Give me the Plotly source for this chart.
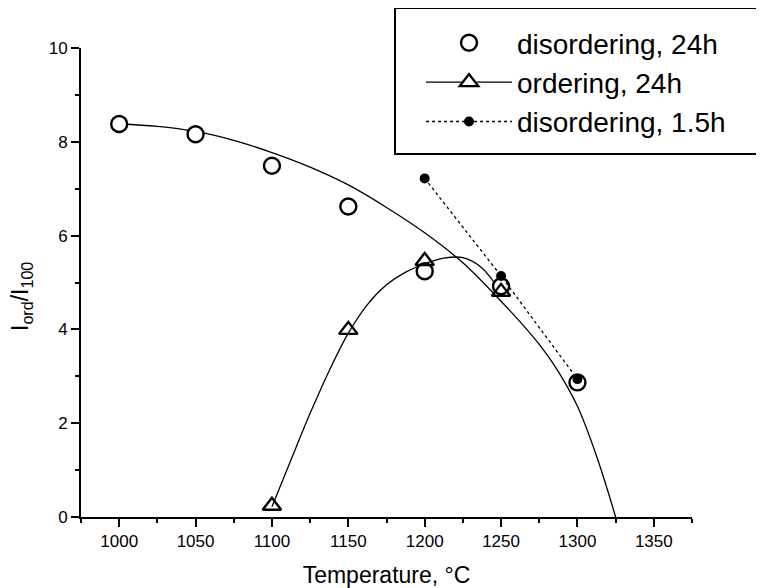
import plotly.graph_objects as go

# ---- data ----
T_dis24 = [1000, 1050, 1100, 1150, 1200, 1250, 1300]
I_dis24 = [8.38, 8.16, 7.49, 6.62, 5.24, 4.92, 2.87]

T_ord24 = [1100, 1150, 1200, 1250]
I_ord24 = [0.24, 3.99, 5.46, 4.80]

T_dis15 = [1200, 1250, 1300]
I_dis15 = [7.22, 5.14, 2.94]

# fitted curves as drawn in the reference
T_dis24_fit = [1000, 1025, 1050, 1075, 1100, 1125, 1150, 1175, 1200, 1225, 1250,
               1262.5, 1275, 1287.5, 1300, 1312.5, 1325]
I_dis24_fit = [8.38, 8.33, 8.22, 8.03, 7.77, 7.46, 7.08, 6.60, 6.06, 5.42, 4.60,
               4.16, 3.68, 3.10, 2.36, 1.30, 0.0]

T_ord24_fit = [1100, 1112.5, 1125, 1137.5, 1150, 1162.5, 1175, 1187.5, 1200, 1212.5, 1225, 1237.5, 1250]
I_ord24_fit = [0.22, 1.22, 2.21, 3.12, 3.92, 4.53, 4.95, 5.22, 5.40, 5.52, 5.53, 5.31, 4.78]

x_ticks = [1000, 1050, 1100, 1150, 1200, 1250, 1300, 1350]
y_ticks = [0, 2, 4, 6, 8, 10]

FONT = "Arial, Liberation Sans, Helvetica, sans-serif"

fig = go.Figure()

# fit curves (no legend)
fig.add_trace(go.Scatter(x=T_dis24_fit, y=I_dis24_fit, mode="lines",
                         line=dict(color="black", width=1.3, shape="spline", smoothing=1),
                         showlegend=False, hoverinfo="skip"))
fig.add_trace(go.Scatter(x=T_ord24_fit, y=I_ord24_fit, mode="lines",
                         line=dict(color="black", width=1.3, shape="spline", smoothing=1),
                         showlegend=False, hoverinfo="skip"))

# disordering 24h - open circles
fig.add_trace(go.Scatter(x=T_dis24, y=I_dis24, mode="markers", name="disordering, 24h",
                         marker=dict(symbol="circle", size=16, color="white",
                                     line=dict(color="black", width=2.4)),
                         legendrank=1))
# ordering 24h - open triangles
fig.add_trace(go.Scatter(x=T_ord24, y=I_ord24, mode="markers", name="ordering, 24h",
                         marker=dict(symbol="triangle-up", size=16, color="rgba(255,255,255,0)",
                                     line=dict(color="black", width=2.4)),
                         showlegend=False))
# legend entry for ordering (line + triangle)
fig.add_trace(go.Scatter(x=[None], y=[None], mode="lines+markers", name="ordering, 24h",
                         line=dict(color="black", width=1.3),
                         marker=dict(symbol="triangle-up", size=16, color="white",
                                     line=dict(color="black", width=2.4)),
                         legendrank=2))
# disordering 1.5h - filled dots with dotted line
fig.add_trace(go.Scatter(x=T_dis15, y=I_dis15, mode="lines+markers", name="disordering, 1.5h",
                         line=dict(color="black", width=1.3, dash="dot"),
                         marker=dict(symbol="circle", size=10, color="black"),
                         legendrank=3))

# legend frame (extends past the right edge as in the reference)
fig.add_shape(type="rect", xref="paper", yref="paper",
              x0=(395 - 81) / 611, x1=(790 - 81) / 611,
              y0=(517 - 154) / 469, y1=(517 - 8) / 469,
              line=dict(color="black", width=2), fillcolor="rgba(0,0,0,0)", layer="above")

# y-axis title
fig.add_annotation(text="I<sub>ord</sub>/I<sub>100</sub>", xref="paper", yref="paper",
                   x=(21 - 81) / 611, y=(517 - 297) / 469, xanchor="center", yanchor="middle",
                   textangle=-90, showarrow=False, font=dict(size=23, family=FONT, color="black"))

W, H = 756, 580
fig.update_layout(
    width=W, height=H,
    margin=dict(l=73, r=72, t=40, b=71, autoexpand=False),
    paper_bgcolor="white", plot_bgcolor="white",
    font=dict(family=FONT, color="black"),
    legend=dict(x=413 / W, y=1 - 10 / H, xref="container", yref="container",
                xanchor="left", yanchor="top",
                borderwidth=0, bgcolor="rgba(255,255,255,0)",
                font=dict(size=28, family=FONT, color="black"),
                itemwidth=86, tracegroupgap=4),
    xaxis=dict(range=[975, 1375], tickvals=x_ticks, ticks="outside", ticklen=8, tickwidth=2,
               tickcolor="black", showline=True, linecolor="black", linewidth=2,
               showgrid=False, zeroline=False, automargin=False,
               tickfont=dict(size=17, family=FONT),
               minor=dict(dtick=25, tick0=975, ticks="outside", ticklen=4, tickwidth=2,
                          tickcolor="black", showgrid=False),
               title=dict(text="Temperature, °C", font=dict(size=23, family=FONT), standoff=19)),
    yaxis=dict(range=[0, 10], tickvals=y_ticks, ticks="outside", ticklen=8, tickwidth=2,
               tickcolor="black", showline=True, linecolor="black", linewidth=2,
               showgrid=False, zeroline=False, automargin=False,
               tickfont=dict(size=17, family=FONT),
               minor=dict(dtick=1, tick0=1, ticks="outside", ticklen=4, tickwidth=2,
                          tickcolor="black", showgrid=False)),
)

fig.write_html("out.html")
